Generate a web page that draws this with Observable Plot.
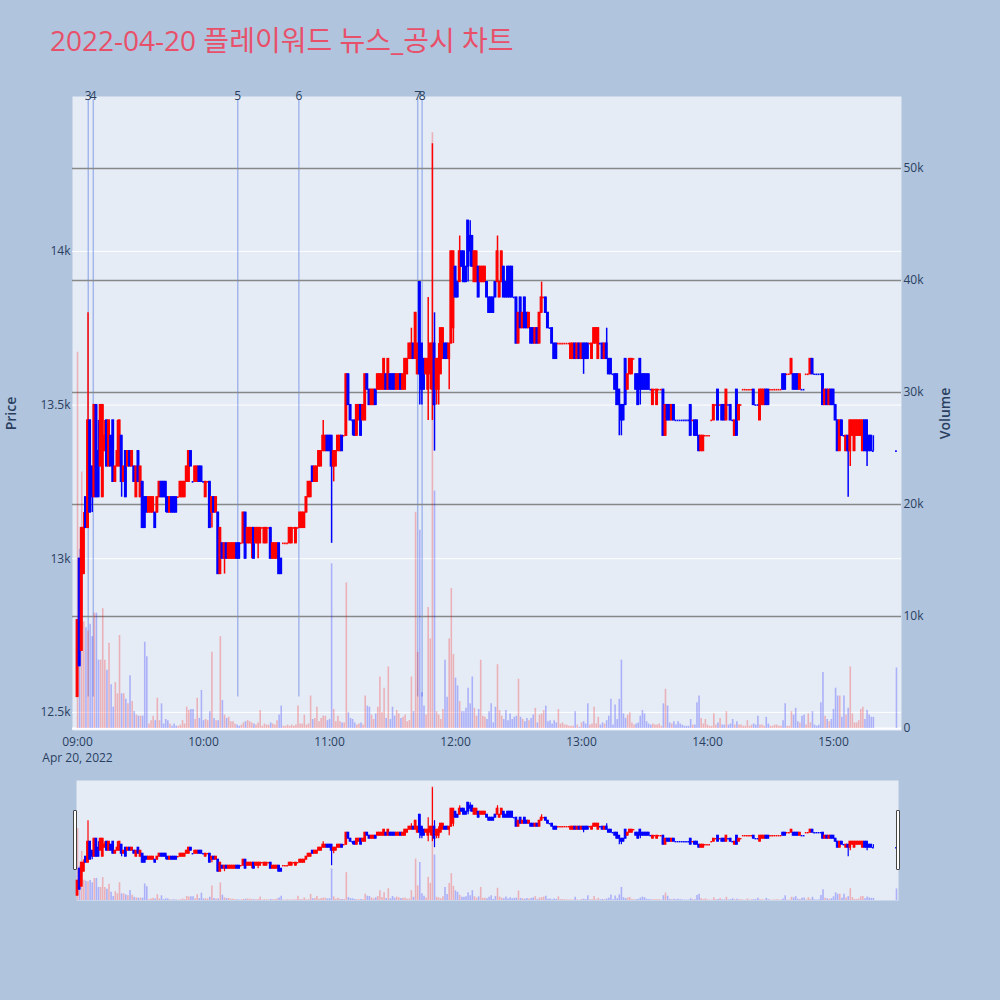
<!DOCTYPE html>
<html><head><meta charset="utf-8">
<script src="https://cdn.jsdelivr.net/npm/d3@7"></script>
<script src="https://cdn.jsdelivr.net/npm/@observablehq/plot@0.6"></script>
<style>
html,body{margin:0;padding:0;background:#b0c4de;}
#root{position:relative;width:1000px;height:1000px;background:#b0c4de;font-family:"Open Sans","Noto Sans CJK KR",sans-serif;overflow:hidden}
#root svg{position:absolute;left:0;top:0}
#slider{position:absolute;left:0;top:780px;width:1000px;height:120px}
#title{position:absolute;left:50px;top:26px;font-size:28px;line-height:1;color:#e8506a;white-space:nowrap}
.handle{position:absolute;width:2px;height:58px;background:#fff;border:1px solid #444;border-radius:1px}
svg [aria-label="y-axis label"] text{font-size:14px;font-weight:600}
</style>
</head><body><div id="root"><div id="title">2022-04-20 플레이워드 뉴스_공시 차트</div><div id="slider"></div></div>
<script>
// ---- per-minute candles, 09:00 .. 15:19 (one value per minute) ----
const open = [
12550,13000,12700,12950,13200,13100,13450,13300,13200,13500,
13350,13300,13200,13350,13450,13300,13400,13450,13250,13300,
13300,13400,13250,13350,13300,13350,13300,13300,13200,13350,
13200,13250,13200,13200,13150,13150,13150,13150,13150,13200,
13250,13250,13250,13200,13150,13200,13200,13200,13200,13200,
13200,13200,13250,13250,13350,13250,13250,13250,13300,13300,
13250,13200,13250,13250,13150,13200,13150,13150,12950,13050,
13000,13050,13000,13000,13000,13000,13050,13050,13050,13050,
13150,13050,13050,13050,13100,13050,13050,13050,13100,13050,
13050,13100,13100,13000,13000,13000,13050,13000,13050,13050,
13050,13050,13050,13100,13050,13100,13100,13100,13100,13150,
13200,13200,13300,13250,13250,13300,13300,13350,13350,13400,
13400,13400,13300,13300,13350,13350,13400,13400,13400,13600,
13500,13450,13450,13400,13450,13500,13450,13450,13600,13550,
13500,13500,13550,13550,13550,13550,13550,13600,13550,13600,
13600,13600,13550,13550,13600,13550,13550,13600,13650,13650,
13700,13650,13600,13900,13700,13650,13600,13550,13600,13550,
13700,13550,13550,13600,13650,13700,13700,13650,13700,13750,
13950,13900,13900,14000,14000,13950,14100,14050,14050,13900,
13900,13950,13900,13900,13900,13900,13850,13850,13850,13900,
13900,13850,13900,13950,13900,13950,13950,13950,13850,13850,
13700,13850,13750,13850,13800,13750,13750,13750,13700,13750,
13700,13800,13850,13850,13800,13750,13750,13700,13700,13700,
13700,13700,13700,13700,13700,13650,13650,13700,13650,13700,
13650,13700,13700,13700,13700,13650,13700,13700,13650,13700,
13700,13650,13700,13650,13650,13600,13600,13600,13550,13500,
13500,13650,13550,13600,13600,13650,13600,13600,13650,13600,
13600,13600,13600,13550,13500,13550,13500,13550,13550,13550,
13400,13500,13500,13450,13500,13450,13450,13450,13450,13450,
13450,13450,13500,13450,13450,13450,13400,13350,13350,13400,
13400,13400,13450,13450,13500,13550,13500,13500,13500,13450,
13500,13500,13450,13400,13550,13450,13500,13550,13550,13550,
13550,13550,13550,13500,13500,13450,13500,13500,13550,13550,
13550,13550,13550,13550,13550,13550,13600,13600,13600,13600,
13600,13600,13600,13600,13550,13550,13550,13600,13600,13600,
13650,13600,13600,13600,13600,13600,13500,13550,13500,13550,
13550,13500,13450,13350,13450,13400,13350,13400,13350,13400,
13350,13400,13400,13400,13350,13450,13450,13400,13400,13350];
const high = [
12800,13000,13100,13150,13200,13800,13450,13300,13500,13500,
13450,13500,13500,13450,13450,13450,13400,13450,13300,13450,
13450,13400,13300,13350,13350,13350,13350,13300,13300,13350,
13300,13250,13200,13200,13200,13200,13200,13150,13200,13250,
13250,13250,13250,13200,13200,13200,13200,13200,13200,13250,
13250,13250,13300,13350,13350,13250,13300,13300,13300,13300,
13250,13250,13250,13250,13200,13200,13200,13150,13100,13050,
13050,13050,13050,13050,13050,13050,13050,13050,13050,13150,
13150,13100,13100,13100,13100,13100,13100,13100,13100,13100,
13100,13100,13100,13050,13050,13050,13050,13000,13050,13050,
13050,13100,13100,13100,13100,13100,13150,13150,13150,13200,
13250,13250,13300,13300,13300,13350,13350,13450,13400,13400,
13400,13400,13350,13350,13400,13400,13400,13400,13600,13600,
13500,13450,13450,13500,13500,13500,13500,13600,13600,13550,
13550,13550,13550,13600,13600,13600,13650,13600,13650,13600,
13600,13600,13600,13600,13600,13600,13650,13650,13700,13750,
13700,13800,13700,13900,13700,13650,13650,13850,13700,14350,
13800,13650,13700,13750,13750,13700,13700,13700,14000,14000,
13950,13900,14050,14000,14000,13950,14100,14100,14050,14000,
14000,13950,13950,13950,13950,13900,13850,13850,13850,13900,
14050,13900,14000,13950,13900,13950,13950,13950,13850,13850,
13800,13850,13800,13850,13800,13800,13750,13750,13750,13750,
13800,13900,13850,13850,13800,13750,13750,13700,13700,13700,
13700,13700,13700,13700,13700,13700,13700,13700,13700,13700,
13700,13700,13700,13700,13700,13700,13750,13750,13750,13700,
13700,13700,13750,13650,13650,13600,13600,13600,13550,13500,
13500,13650,13600,13650,13650,13650,13600,13600,13650,13600,
13600,13600,13600,13550,13550,13550,13550,13550,13550,13550,
13500,13500,13500,13500,13500,13450,13450,13450,13450,13450,
13450,13450,13500,13450,13450,13450,13400,13400,13400,13400,
13400,13400,13450,13500,13500,13550,13500,13500,13500,13550,
13500,13500,13450,13450,13550,13500,13500,13550,13550,13550,
13550,13550,13550,13500,13500,13550,13550,13550,13550,13550,
13550,13550,13550,13550,13550,13550,13600,13600,13600,13600,
13650,13600,13600,13600,13600,13550,13550,13600,13600,13650,
13650,13600,13600,13600,13600,13600,13550,13550,13550,13550,
13550,13500,13450,13450,13450,13400,13400,13400,13450,13450,
13450,13450,13450,13450,13450,13450,13450,13400,13400,13400];
const low = [
12550,12650,12700,12950,13100,13100,13150,13150,13200,13200,
13200,13300,13200,13350,13300,13300,13300,13250,13250,13300,
13300,13200,13250,13200,13300,13300,13300,13250,13200,13250,
13200,13100,13100,13150,13150,13150,13150,13100,13150,13200,
13200,13200,13150,13150,13150,13150,13150,13150,13200,13200,
13200,13200,13250,13250,13300,13250,13250,13250,13250,13250,
13250,13200,13250,13100,13100,13150,13150,12950,12950,13000,
12950,13000,13000,13000,13000,13000,13000,13000,13050,13050,
13000,13050,13050,13000,13000,13050,13000,13050,13100,13050,
13050,13100,13000,13000,13000,13000,12950,12950,13050,13050,
13050,13050,13050,13100,13050,13100,13100,13100,13100,13150,
13200,13200,13250,13250,13250,13300,13300,13350,13350,13350,
13350,13050,13250,13300,13350,13350,13350,13400,13400,13500,
13450,13400,13400,13400,13450,13400,13450,13450,13550,13500,
13500,13500,13500,13550,13550,13550,13550,13550,13550,13550,
13550,13550,13550,13550,13550,13550,13550,13600,13650,13650,
13650,13650,13600,13500,13500,13550,13600,13450,13550,13450,
13350,13500,13500,13600,13650,13650,13650,13550,13700,13700,
13850,13850,13900,13950,13900,13900,13900,13950,13950,13900,
13900,13850,13900,13900,13900,13850,13800,13800,13800,13850,
13900,13850,13900,13850,13850,13850,13850,13850,13850,13700,
13700,13750,13750,13750,13750,13750,13700,13700,13700,13700,
13700,13800,13850,13800,13750,13750,13700,13650,13650,13700,
13700,13700,13700,13700,13700,13650,13650,13650,13650,13650,
13650,13600,13650,13650,13700,13650,13700,13700,13650,13700,
13650,13650,13650,13600,13600,13600,13550,13500,13400,13400,
13450,13500,13550,13600,13600,13650,13550,13500,13500,13550,
13550,13550,13550,13550,13500,13550,13500,13550,13550,13400,
13400,13450,13450,13450,13450,13450,13450,13450,13450,13450,
13450,13450,13400,13450,13400,13400,13350,13350,13350,13400,
13400,13400,13450,13450,13500,13450,13500,13450,13450,13450,
13500,13450,13450,13400,13400,13450,13500,13550,13550,13550,
13550,13550,13500,13500,13500,13450,13500,13500,13500,13500,
13550,13550,13550,13550,13550,13550,13550,13550,13600,13600,
13600,13550,13550,13550,13550,13550,13550,13600,13600,13600,
13600,13600,13600,13600,13600,13500,13500,13500,13500,13500,
13500,13450,13350,13350,13400,13400,13350,13200,13300,13400,
13350,13400,13400,13400,13350,13350,13300,13350,13350,13350];
const close = [
12800,12650,13100,13100,13100,13450,13150,13200,13500,13200,
13200,13500,13500,13400,13300,13450,13300,13250,13300,13350,
13450,13250,13300,13200,13350,13300,13350,13250,13300,13250,
13300,13100,13100,13150,13200,13200,13200,13100,13200,13250,
13200,13200,13200,13150,13200,13150,13150,13150,13200,13250,
13250,13250,13300,13350,13300,13250,13300,13300,13250,13250,
13250,13250,13250,13100,13200,13150,13200,12950,13100,13000,
13050,13000,13050,13050,13050,13050,13000,13000,13050,13150,
13000,13100,13100,13100,13000,13100,13100,13100,13100,13100,
13100,13100,13000,13050,13050,13050,12950,12950,13050,13050,
13050,13100,13100,13100,13100,13100,13150,13150,13150,13200,
13250,13250,13250,13300,13300,13350,13350,13400,13400,13350,
13350,13300,13350,13350,13400,13400,13350,13400,13600,13500,
13450,13450,13400,13500,13500,13400,13500,13600,13550,13500,
13550,13550,13500,13600,13600,13600,13650,13550,13650,13550,
13550,13550,13600,13600,13550,13600,13650,13650,13700,13700,
13650,13800,13700,13600,13550,13550,13650,13650,13700,13700,
13500,13650,13650,13750,13750,13650,13650,13700,14000,14000,
13850,13850,14000,13950,13900,13900,13950,14000,13950,14000,
14000,13850,13950,13950,13950,13850,13800,13800,13800,13850,
14000,13900,14000,13850,13850,13850,13850,13850,13850,13700,
13800,13750,13800,13750,13750,13800,13700,13700,13750,13700,
13800,13850,13850,13800,13750,13750,13700,13650,13650,13700,
13700,13700,13700,13700,13700,13700,13700,13650,13700,13650,
13700,13650,13650,13650,13700,13700,13750,13750,13750,13700,
13650,13700,13650,13600,13600,13600,13550,13500,13500,13450,
13450,13500,13600,13650,13650,13650,13550,13500,13550,13550,
13550,13550,13550,13550,13550,13550,13550,13550,13550,13400,
13500,13450,13450,13500,13450,13450,13450,13450,13450,13450,
13450,13450,13400,13450,13400,13400,13350,13400,13400,13400,
13400,13400,13450,13500,13500,13450,13500,13450,13450,13550,
13500,13450,13450,13450,13400,13500,13500,13550,13550,13550,
13550,13550,13500,13500,13500,13550,13550,13550,13500,13500,
13550,13550,13550,13550,13550,13550,13550,13550,13600,13600,
13650,13550,13550,13550,13600,13550,13550,13600,13600,13650,
13600,13600,13600,13600,13600,13500,13550,13500,13550,13500,
13500,13450,13350,13450,13400,13400,13400,13350,13450,13450,
13450,13450,13450,13450,13450,13350,13350,13350,13350,13350];
const volume = [
33600,16000,22900,9500,9000,8700,9300,8200,10300,10300,
6100,6100,10700,6100,5200,7600,3900,1900,4100,3100,
8300,3100,3100,2600,2200,4700,2400,1500,1200,1100,
1100,1100,7700,6400,400,700,1100,700,2700,700,
2200,400,800,700,400,200,400,200,200,300,
700,400,1900,1600,1700,1700,800,2700,900,3400,
700,800,700,1500,6800,900,700,700,8200,2500,
1200,900,1000,600,600,400,300,200,300,500,
600,700,600,500,400,300,500,1600,200,400,
300,300,500,400,300,700,1200,2000,200,200,
300,200,300,200,300,2000,400,400,1200,300,
400,2900,800,900,1900,600,900,1100,1100,700,
800,14700,1700,600,1100,600,500,500,13000,1400,
900,800,500,300,400,500,300,2900,2000,1900,
1200,800,1300,1900,4600,1400,3600,900,5500,800,
1900,1100,1600,1300,900,1000,1200,600,700,4600,
1500,19300,6800,17700,3200,2000,1200,10800,8000,53200,
21200,1500,1200,800,1700,6100,2800,8000,12500,6600,
4500,3800,2400,1500,1500,1800,3600,2200,4600,1800,
1100,1700,6100,1100,1000,800,1500,2200,500,1900,
5700,1600,1100,800,1600,700,1300,800,1000,1100,
4400,1000,800,600,900,700,900,1200,1800,500,
1200,1300,1600,2000,600,700,400,700,500,1700,
400,500,300,300,200,200,200,1500,300,100,
500,600,400,2200,300,400,1900,400,1000,300,
500,400,700,1100,2600,300,2100,800,2600,6100,
1300,900,1200,1400,500,300,400,500,1100,1600,
1300,600,400,300,400,300,300,400,200,2200,
3500,2000,500,400,600,300,600,400,300,200,
200,200,800,300,300,2300,2900,900,400,800,
300,200,200,1300,300,500,900,300,300,1500,
300,400,800,300,600,300,300,200,200,700,
200,300,400,300,1100,300,300,200,1000,400,
200,200,300,300,200,200,700,2200,200,200,
1500,1200,1800,600,500,1100,1200,300,1300,500,
1500,300,200,300,2300,5000,1100,800,600,800,
1700,3600,2900,2900,1000,2900,1200,1800,5500,1300,
500,500,700,1700,1900,800,1600,1200,1000,1000];
// closing single-price auction
const auctionTime = "15:30";
const auctionPrice = 13350;
const auctionVolume = 5400;

// news / disclosure markers
const newsLabels = ["3","4","5","6","7","8"];
const newsTimes = ["09:05:06","09:07:30","10:16:18","10:45:24","11:42:00","11:44:06"];

// axis ticks
const hourTicks = ["09:00","10:00","11:00","12:00","13:00","14:00","15:00"];
const priceTicks = [12500,13000,13500,14000];
const priceTickLabels = ["12.5k","13k","13.5k","14k"];
const volumeTicks = [0,10000,20000,30000,40000,50000];
const volumeTickLabels = ["0","10k","20k","30k","40k","50k"];
const dateLabel = "Apr 20, 2022";

// ---- build ----
const FONT = '"Open Sans","Noto Sans CJK KR",sans-serif';
const base = Date.UTC(2022,3,20,9,0);
const atMinute = m => new Date(base + m*60000);
const parseTime = s => { const p = s.split(":").map(Number); return new Date(Date.UTC(2022,3,20,p[0],p[1],p[2]||0)); };

const candles = open.map((o,i)=>({t: atMinute(i), open:o, high:high[i], low:low[i], close:close[i], volume:volume[i]}));
candles.push({t: parseTime(auctionTime), open:auctionPrice, high:auctionPrice, low:auctionPrice, close:auctionPrice, volume:auctionVolume});
let inc = true, prevC = null;
for (const d of candles) {
  if (d.close !== d.open) inc = d.close > d.open;
  else if (prevC !== null && prevC !== d.close) inc = d.close > prevC;
  d.color = inc ? "#ff0000" : "#0000ff";
  prevC = d.close;
}
const flats = candles.filter(d => d.open === d.close);
const news = newsLabels.map((l,i)=>({label:l, t: parseTime(newsTimes[i])}));
const hourDates = hourTicks.map(parseTime);
const minLow = d3.min(candles, d=>d.low);
const maxHigh = d3.max(candles, d=>d.high);
const priceFmt = d => priceTickLabels[priceTicks.indexOf(d)];
const volFmt = d => volumeTickLabels[volumeTicks.indexOf(d)];

const W = 1000, H = 780;
const M = {marginTop:96, marginBottom:50, marginLeft:72, marginRight:99};
const styleT = {background:"transparent", color:"#2a3f5f", fontSize:"12px", fontFamily:FONT, overflow:"visible"};
const xMain = {type:"utc", domain:[atMinute(-2.4), atMinute(392.4)]};
const yPrice = {domain:[12441, 14504]};
const yVol = {domain:[-180, 56430]};
const halfBody = 24000;
const bx1 = d => new Date(+d.t - halfBody), bx2 = d => new Date(+d.t + halfBody);

const root = document.getElementById("root");

// layer A: background, price grid, news, axes
root.appendChild(Plot.plot({
  width:W, height:H, ...M, style:styleT,
  x:{...xMain}, y:{...yPrice},
  marks:[
    Plot.frame({fill:"#e5ecf6", stroke:"none"}),
    Plot.gridY(priceTicks, {stroke:"#ffffff", strokeOpacity:1, strokeWidth:1}),
    Plot.ruleX(news, {x:"t", y1:minLow, y2:maxHigh*1.01, stroke:"royalblue", strokeOpacity:0.4, strokeWidth:1.5}),
    Plot.text(news, {x:"t", text:"label", frameAnchor:"top", lineAnchor:"middle", fill:"#2a3f5f", fontSize:12}),
    Plot.axisX(hourDates, {tickSize:0, tickPadding:7, tickFormat:d3.utcFormat("%H:%M"), label:null}),
    Plot.text([{t:hourDates[0], s:dateLabel}], {x:"t", text:"s", frameAnchor:"bottom", dy:28, lineAnchor:"middle", fill:"#2a3f5f", fontSize:12}),
    Plot.axisY(priceTicks, {tickSize:0, tickPadding:2, tickFormat:priceFmt, label:"Price", labelAnchor:"center", labelOffset:66, labelArrow:"none"})
  ]
}));

// layer B: volume
root.appendChild(Plot.plot({
  width:W, height:H, ...M, style:styleT,
  x:{...xMain, axis:null}, y:{...yVol}, color:{type:"identity"},
  marks:[
    Plot.gridY(volumeTicks.filter(v=>v>0), {stroke:"#888888", strokeOpacity:1, strokeWidth:1.3}),
    Plot.ruleY([0], {stroke:"#ffffff", strokeWidth:2}),
    Plot.ruleX(candles, {x:"t", y1:0, y2:"volume", stroke:"color", strokeOpacity:0.25, strokeWidth:1.6}),
    Plot.axisY(volumeTicks, {anchor:"right", tickSize:0, tickPadding:2, tickFormat:volFmt, label:"Volume", labelAnchor:"center", labelOffset:48, labelArrow:"none"})
  ]
}));

// layer C: candles
root.appendChild(Plot.plot({
  width:W, height:H, ...M, style:styleT,
  x:{...xMain, axis:null}, y:{...yPrice, axis:null}, color:{type:"identity"},
  marks:[
    Plot.ruleX(candles, {x:"t", y1:"low", y2:"high", stroke:"color", strokeWidth:1.5}),
    Plot.rect(candles, {x1:bx1, x2:bx2, y1:"open", y2:"close", fill:"color", stroke:"color", strokeWidth:1.2}),
    Plot.ruleY(flats, {y:"close", x1:bx1, x2:bx2, stroke:"color", strokeWidth:1.6})
  ]
}));

// range slider
const slider = document.getElementById("slider");
const SM = {marginTop:0, marginBottom:0, marginLeft:76, marginRight:102};
const xSl = {type:"utc", domain:[atMinute(-0.48), atMinute(390.95)], axis:null};
slider.appendChild(Plot.plot({
  width:W, height:120, ...SM, style:styleT,
  x:xSl, y:{domain:[0,56000], axis:null}, color:{type:"identity"},
  marks:[
    Plot.frame({fill:"#e5ecf6", stroke:"none"}),
    Plot.ruleX(candles, {x:"t", y1:0, y2:"volume", stroke:"color", strokeOpacity:0.25, strokeWidth:1.6})
  ]
}));
slider.appendChild(Plot.plot({
  width:W, height:120, ...SM, style:styleT,
  x:xSl, y:{domain:[12470,14470], axis:null}, color:{type:"identity"},
  marks:[
    Plot.ruleX(candles, {x:"t", y1:"low", y2:"high", stroke:"color", strokeWidth:1.2}),
    Plot.rect(candles, {x1:bx1, x2:bx2, y1:"open", y2:"close", fill:"color", stroke:"color", strokeWidth:1}),
    Plot.ruleY(flats, {y:"close", x1:bx1, x2:bx2, stroke:"color", strokeWidth:1.4})
  ]
}));
for (const left of [73, 896]) {
  const h = document.createElement("div");
  h.className = "handle";
  h.style.left = left + "px";
  h.style.top = "30px";
  slider.appendChild(h);
}
</script></body></html>
